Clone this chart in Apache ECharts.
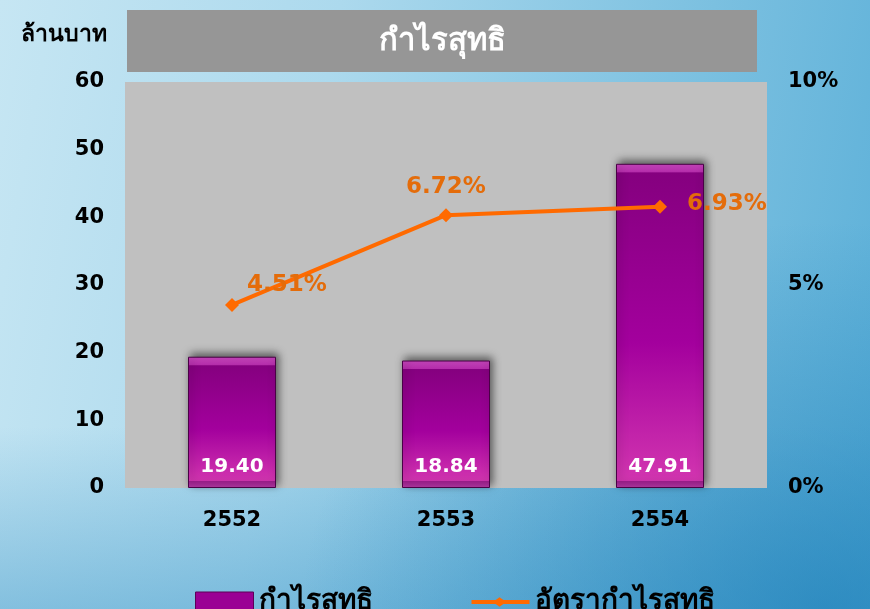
<!DOCTYPE html>
<html>
<head>
<meta charset="utf-8">
<title>กำไรสุทธิ</title>
<script src="https://cdn.jsdelivr.net/npm/echarts@6/dist/echarts.min.js"></script>
<style>
  html, body { margin: 0; padding: 0; }
  body {
    width: 870px; height: 609px; overflow: hidden;
    background:
      radial-gradient(ellipse at 95% 100%, rgba(20,120,180,0.55) 0%, rgba(20,120,180,0) 45%),
      linear-gradient(180deg, rgba(60,150,200,0) 70%, rgba(60,150,200,0.45) 100%),
      linear-gradient(100deg, #c6e6f3 0%, #acd9ed 35%, #7fc2e1 70%, #5aafd8 100%);
  }
  #chart { width: 870px; height: 609px; }
</style>
</head>
<body>
<div id="chart"></div>
<script>
'use strict';

var years = ['2552', '2553', '2554'];
var profit = [19.40, 18.84, 47.91];      // ล้านบาท
var profitRate = [4.51, 6.72, 6.93];     // %
var font = '"DejaVu Sans", "Noto Sans", sans-serif';

var chart = echarts.init(document.getElementById('chart'));

// ตำแหน่งป้ายของเส้นแต่ละจุด
var rateLabels = [
  { position: 'right', distance: 8, offset: [0, -20] },
  { position: 'top', distance: 10 },
  { position: 'right', distance: 20, offset: [0, -3] }
];

// แท่งแบบมีขอบนูน (สีไล่ระดับตามความสูงแท่ง)
function barColor(v) {
  var h = v / 60 * 406;
  var t = 9 / h, b = 1 - 7 / h;
  return new echarts.graphic.LinearGradient(0, 0, 0, 1, [
    { offset: 0, color: '#c846bd' },
    { offset: t * 0.9, color: '#b52eab' },
    { offset: t, color: '#85007f' },
    { offset: 0.55, color: '#a3009d' },
    { offset: b, color: '#d235b0' },
    { offset: b + 0.0001, color: '#9c1e8c' },
    { offset: 1, color: '#b33aa4' }
  ]);
}

var lineIcon = 'path://M30,0 L30,0 Z M30,20 L30,20 Z M0,8 L25,8 L29,5 L33,8 L60,8 L60,12 L33,12 L29,15 L25,12 L0,12 Z';

var option = {
  textStyle: { fontFamily: font },
  graphic: [
    {
      type: 'rect',
      shape: { x: 127, y: 10, width: 630, height: 62 },
      style: { fill: '#969696' }
    },
    {
      type: 'text',
      x: 442, y: 42,
      style: {
        text: 'กำไรสุทธิ', fill: '#fff', fontSize: 31, fontWeight: 'bold',
        fontFamily: font, align: 'center', verticalAlign: 'middle'
      }
    },
    {
      type: 'text',
      x: 107, y: 35,
      style: {
        text: 'ล้านบาท', fill: '#000', fontSize: 23, fontWeight: 'bold',
        fontFamily: font, align: 'right', verticalAlign: 'middle'
      }
    }
  ],
  grid: {
    left: 125, right: 103, top: 82, bottom: 121,
    show: true, backgroundColor: '#c0c0c0', borderWidth: 0
  },
  legend: {
    left: 190, top: 583,
    itemWidth: 58, itemHeight: 20, itemGap: 99,
    textStyle: { fontSize: 28, fontWeight: 'bold', color: '#000', fontFamily: font },
    data: [
      { name: 'กำไรสุทธิ', icon: 'rect', itemStyle: { color: '#9a0094', borderColor: '#5c0058', borderWidth: 1 } },
      { name: 'อัตรากำไรสุทธิ', icon: lineIcon }
    ]
  },
  xAxis: {
    type: 'category',
    data: years,
    axisLine: { show: false },
    axisTick: { show: false },
    axisLabel: { color: '#000', fontSize: 21, fontWeight: 'bold', margin: 22 }
  },
  yAxis: [
    {
      type: 'value', min: 0, max: 60, interval: 10,
      splitLine: { show: false },
      axisLabel: { color: '#000', fontSize: 21, fontWeight: 'bold', margin: 21 }
    },
    {
      type: 'value', min: 0, max: 10, interval: 5,
      splitLine: { show: false },
      axisLabel: { color: '#000', fontSize: 21, fontWeight: 'bold', margin: 21, formatter: '{value}%' }
    }
  ],
  series: [
    {
      name: 'กำไรสุทธิ',
      type: 'bar',
      data: profit.map(function (v) {
        return { value: v, itemStyle: { color: barColor(v) } };
      }),
      barWidth: 88,
      itemStyle: {
        color: '#a3009d',
        borderColor: '#4a0046',
        borderWidth: 1,
        shadowColor: 'rgba(0,0,0,0.55)',
        shadowBlur: 8,
        shadowOffsetX: 2,
        shadowOffsetY: -3
      },
      label: {
        show: true,
        position: 'insideBottom',
        distance: 11,
        color: '#fff',
        fontSize: 20,
        fontWeight: 'bold',
        formatter: function (p) { return p.value.toFixed(2); }
      }
    },
    {
      name: 'อัตรากำไรสุทธิ',
      type: 'line',
      yAxisIndex: 1,
      data: profitRate.map(function (v, i) {
        return { value: v, label: rateLabels[i] };
      }),
      symbol: 'diamond',
      symbolSize: 14,
      lineStyle: { color: '#ff6a00', width: 4 },
      itemStyle: { color: '#ff6a00' },
      label: {
        show: true,
        color: '#e46c0a',
        fontSize: 23,
        fontWeight: 'bold',
        formatter: function (p) { return p.value.toFixed(2) + '%'; }
      }
    }
  ]
};

chart.setOption(option);
window.onresize = chart.resize;
</script>
</body>
</html>
